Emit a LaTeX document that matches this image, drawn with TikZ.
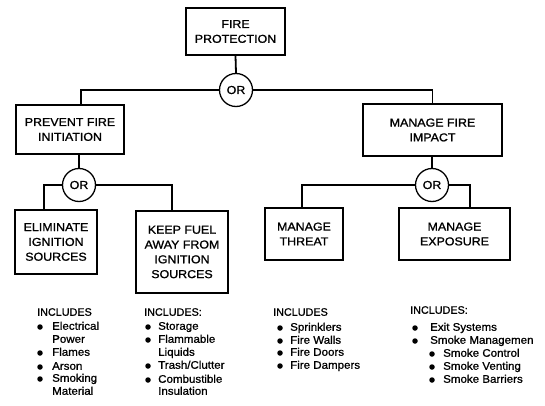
\documentclass[tikz,border=0pt]{standalone}
\usepackage{fontspec}
\setmainfont{Liberation Sans}
\newfontfamily\boxfont[FakeBold=1.2, FakeStretch=1.08]{Liberation Sans}
\newfontfamily\lstfont[FakeBold=0.9, FakeStretch=1.05]{Liberation Sans}
\newfontfamily\headfont[FakeBold=0.9]{Liberation Sans}
\begin{document}
\begin{tikzpicture}[x=1pt,y=-1pt,
  box/.style={draw, line width=1.6pt, align=center, inner sep=0pt,
    font=\boxfont\fontsize{11.5}{14.8}\selectfont},
  orgate/.style={draw, circle, line width=1.3pt, minimum size=33pt, inner sep=0pt,
    font=\boxfont\fontsize{11.5}{13}\selectfont},
  conn/.style={line width=1.8pt},
  lst/.style={anchor=west, inner sep=0pt, text height=7.5pt, text depth=2pt,
    font=\lstfont\fontsize{11}{13}\selectfont},
  hd/.style={anchor=west, inner sep=0pt, text height=7.5pt, text depth=2pt,
    font=\headfont\fontsize{10.8}{13}\selectfont},
  dot/.style={circle, fill, inner sep=0pt, minimum size=5.5pt}]
\useasboundingbox (0,0) rectangle (545,406);

% boxes
\node[box, minimum width=99pt, minimum height=47pt] (fp) at (235.5,31.5) {FIRE\\PROTECTION};
\node[orgate] (or1) at (236,90) {OR};
\node[box, minimum width=108pt, minimum height=49pt] (pfi) at (70,129.5) {PREVENT FIRE\\INITIATION};
\node[box, minimum width=139pt, minimum height=52pt] (mfi) at (432.5,130) {MANAGE FIRE\\IMPACT};
\node[orgate] (or2) at (79,185) {OR};
\node[orgate] (or3) at (432,185) {OR};
\node[box, minimum width=82pt, minimum height=64pt] (eis) at (56,242) {ELIMINATE\\IGNITION\\SOURCES};
\node[box, minimum width=92pt, minimum height=82pt] (kf) at (182,252) {KEEP FUEL\\AWAY FROM\\IGNITION\\SOURCES};
\node[box, minimum width=78pt, minimum height=52pt] (mt) at (304,234) {MANAGE\\THREAT};
\node[box, minimum width=111pt, minimum height=52pt] (me) at (454.5,234) {MANAGE\\EXPOSURE};

% connectors
\draw[conn] (fp.south) -- (or1.north);
\draw[conn] (or1.west) -| ([xshift=11pt]pfi.north);
\draw[conn] (or1.east) -| (mfi.north);
\draw[conn] (pfi.south -| or2.north) -- (or2.north);
\draw[conn] (mfi.south -| or3.north) -- (or3.north);
\draw[conn] (or2.west) -| ([xshift=-12pt]eis.north);
\draw[conn] (or2.east) -| ([xshift=-10pt]kf.north);
\draw[conn] (or3.west) -| ([xshift=-2pt]mt.north);
\draw[conn] (or3.east) -| ([xshift=15.5pt]me.north);

% column 1
\node[hd] (h1) at (37,313) {INCLUDES};
\node[dot] (b11) at (40,327) {}; \node[lst] (t11) at (52,327) {Electrical};
\node[lst] (t12) at (52,340) {Power};
\node[dot] (b13) at (40,353) {}; \node[lst] (t13) at (52,353) {Flames};
\node[dot] (b14) at (40,367) {}; \node[lst] (t14) at (52,367) {Arson};
\node[dot] (b15) at (40,379) {}; \node[lst] (t15) at (52,379) {Smoking};
\node[lst] (t16) at (52,392) {Material};

% column 2
\node[hd] (h2) at (144,313) {INCLUDES:};
\node[dot] (b21) at (148,327) {}; \node[lst] (t21) at (158,327) {Storage};
\node[dot] (b22) at (148,340) {}; \node[lst] (t22) at (158,340) {Flammable};
\node[lst] (t23) at (158,353) {Liquids};
\node[dot] (b24) at (148,366) {}; \node[lst] (t24) at (158,366) {Trash/Clutter};
\node[dot] (b25) at (148,380) {}; \node[lst] (t25) at (158,380) {Combustible};
\node[lst] (t26) at (158,392) {Insulation};

% column 3
\node[hd] (h3) at (273,313) {INCLUDES};
\node[dot] (b31) at (280,328) {}; \node[lst] (t31) at (290,328) {Sprinklers};
\node[dot] (b32) at (280,341) {}; \node[lst] (t32) at (290,341) {Fire Walls};
\node[dot] (b33) at (280,353) {}; \node[lst] (t33) at (290,353) {Fire Doors};
\node[dot] (b34) at (280,366) {}; \node[lst] (t34) at (290,366) {Fire Dampers};

% column 4
\node[hd] (h4) at (410,311) {INCLUDES:};
\node[dot] (b41) at (415,328) {}; \node[lst] (t41) at (430,328) {Exit Systems};
\node[dot] (b42) at (415,341) {}; \node[lst] (t42) at (430,341) {Smoke Managemen};
\node[dot] (b43) at (432,354) {}; \node[lst] (t43) at (443,354) {Smoke Control};
\node[dot] (b44) at (432,367) {}; \node[lst] (t44) at (443,367) {Smoke Venting};
\node[dot] (b45) at (432,380) {}; \node[lst] (t45) at (443,380) {Smoke Barriers};
\end{tikzpicture}
\end{document}
